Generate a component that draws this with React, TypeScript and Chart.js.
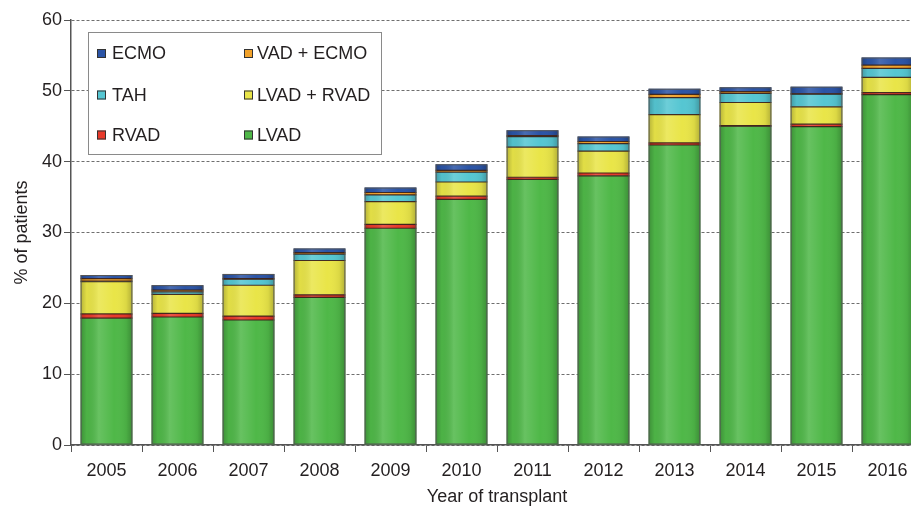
import React, { useEffect, useRef } from "react";
import { Chart, registerables } from "chart.js";

Chart.register(...registerables);

const years = ["2005", "2006", "2007", "2008", "2009", "2010", "2011", "2012", "2013", "2014", "2015", "2016"];
const lvad = [17.9, 18.07, 17.65, 20.85, 30.6, 34.68, 37.5, 38.0, 42.35, 45.0, 44.94, 49.46];
const rvad = [0.6, 0.5, 0.55, 0.35, 0.55, 0.45, 0.3, 0.4, 0.3, 0.1, 0.35, 0.28];
const lvadRvad = [4.55, 2.7, 4.35, 4.85, 3.2, 2.0, 4.24, 3.1, 4.0, 3.25, 2.45, 2.17];
const tah = [0.1, 0.35, 0.85, 0.9, 0.95, 1.4, 1.5, 1.05, 2.4, 1.3, 1.8, 1.27];
const vadEcmo = [0.35, 0.25, 0.1, 0.2, 0.35, 0.25, 0.15, 0.3, 0.45, 0.25, 0.05, 0.45];
const ecmo = [0.5, 0.7, 0.65, 0.6, 0.7, 0.85, 0.75, 0.7, 0.8, 0.6, 1.0, 1.08];
const yTicks = [0, 10, 20, 30, 40, 50, 60];
const legendOrder = [
  ["ECMO", "VAD + ECMO"],
  ["TAH", "LVAD + RVAD"],
  ["RVAD", "LVAD"],
];

const FONT = '"Liberation Sans", Arial, sans-serif';
const TEXT = "#231f20";

const shadePlugin = {
  id: "shade",
  afterDatasetsDraw(chart: any) {
    const ctx = chart.ctx;
    const metas = chart.getSortedVisibleDatasetMetas();
    const n = chart.data.labels.length;
    ctx.save();
    for (let i = 0; i < n; i++) {
      const first = metas[0].data[i];
      if (!first) continue;
      const p = first.getProps(["x", "width", "base"], true);
      let top = Infinity;
      const tops: number[] = [];
      metas.forEach((m: any) => {
        const el = m.data[i];
        if (el) {
          const y = el.getProps(["y"], true).y;
          tops.push(y);
          top = Math.min(top, y);
        }
      });
      const left = p.x - p.width / 2;
      const g = ctx.createLinearGradient(left, 0, left + p.width, 0);
      g.addColorStop(0, "rgba(0,0,0,0.22)");
      g.addColorStop(0.12, "rgba(0,0,0,0.03)");
      g.addColorStop(0.35, "rgba(255,255,255,0.14)");
      g.addColorStop(0.65, "rgba(255,255,255,0)");
      g.addColorStop(0.88, "rgba(0,0,0,0.06)");
      g.addColorStop(1, "rgba(0,0,0,0.24)");
      ctx.fillStyle = g;
      ctx.fillRect(left, top, p.width, p.base - top);
      // segment boundaries
      ctx.strokeStyle = "rgba(55,30,25,0.92)";
      ctx.lineWidth = 1.2;
      tops.slice(0, tops.length - 1).forEach((y) => {
        ctx.beginPath();
        ctx.moveTo(left, y);
        ctx.lineTo(left + p.width, y);
        ctx.stroke();
      });
      ctx.strokeStyle = "#555555";
      ctx.lineWidth = 1;
      ctx.strokeRect(left + 0.5, top + 0.5, p.width - 1, p.base - top - 1);
    }
    ctx.restore();
  },
};

const legendPlugin = {
  id: "boxLegend",
  afterDraw(chart: any) {
    const ctx = chart.ctx;
    const colorOf: Record<string, string> = {};
    chart.data.datasets.forEach((d: any) => {
      colorOf[d.label] = d.backgroundColor;
    });
    ctx.save();
    ctx.fillStyle = "#ffffff";
    ctx.fillRect(88.5, 32.5, 293, 122);
    ctx.strokeStyle = "#8a8a8a";
    ctx.lineWidth = 1;
    ctx.strokeRect(88.5, 32.5, 293, 122);
    const rowsY = [53.5, 95, 135];
    const colSq = [97, 244];
    const colTx = [112, 257];
    ctx.font = `18px ${FONT}`;
    ctx.textBaseline = "middle";
    ctx.textAlign = "left";
    legendOrder.forEach((row, r) => {
      row.forEach((label, c) => {
        const sx = colSq[c];
        const sy = rowsY[r] - 4.5;
        ctx.fillStyle = colorOf[label];
        ctx.fillRect(sx, sy, 9, 9);
        ctx.strokeStyle = "#333333";
        ctx.strokeRect(sx + 0.5, sy + 0.5, 8, 8);
        ctx.fillStyle = TEXT;
        ctx.fillText(label, colTx[c], rowsY[r] + 1);
      });
    });
    ctx.restore();
  },
};

export default function App() {
  const ref = useRef<HTMLCanvasElement | null>(null);

  useEffect(() => {
    if (!ref.current) return;
    const mk = (label: string, data: number[], color: string) => ({
      label,
      data,
      backgroundColor: color,
      borderWidth: 0,
      barPercentage: 0.73,
      categoryPercentage: 1,
    });
    const chart = new Chart(ref.current, {
      type: "bar",
      data: {
        labels: years,
        datasets: [
          mk("LVAD", lvad, "#4fb848"),
          mk("RVAD", rvad, "#e8392a"),
          mk("LVAD + RVAD", lvadRvad, "#e9e548"),
          mk("TAH", tah, "#55c6d2"),
          mk("VAD + ECMO", vadEcmo, "#f2a22a"),
          mk("ECMO", ecmo, "#2b54a6"),
        ],
      },
      options: {
        responsive: false,
        animation: false,
        devicePixelRatio: 1,
        layout: { padding: { left: 0, top: 20, right: 2, bottom: 0 } },
        plugins: {
          legend: { display: false },
          tooltip: { enabled: false },
        },
        scales: {
          x: {
            stacked: true,
            ticks: { color: TEXT, font: { size: 18, family: FONT }, padding: 8, maxRotation: 0 },
            grid: {
              drawOnChartArea: false,
              drawTicks: true,
              tickLength: 7,
              color: "#555555",
              tickBorderDash: [],
            },
            border: { display: true, color: "#555555", width: 1.5 },
            title: {
              display: true,
              text: "Year of transplant",
              color: TEXT,
              font: { size: 18, family: FONT },
              padding: { top: 0, bottom: 3 },
            },
            afterFit: (s: any) => {
              s.height = 66;
            },
          },
          y: {
            stacked: true,
            min: 0,
            max: 60,
            afterBuildTicks: (s: any) => {
              s.ticks = yTicks.map((v) => ({ value: v }));
            },
            ticks: { color: TEXT, font: { size: 18, family: FONT }, padding: 2 },
            grid: {
              color: "#6f6f6f",
              lineWidth: 1,
              tickLength: 7,
              tickColor: "#555555",
              tickBorderDash: [],
            },
            border: { display: true, color: "#555555", width: 1.5, dash: [3, 2] },
            title: {
              display: true,
              text: "% of patients",
              color: TEXT,
              font: { size: 18, family: FONT },
              padding: { top: 11, bottom: 0 },
            },
            afterFit: (s: any) => {
              s.width = 71;
            },
          },
        },
      },
      plugins: [shadePlugin, legendPlugin],
    });
    return () => chart.destroy();
  }, []);

  return (
    <div
      style={{
        position: "absolute",
        left: 0,
        top: 0,
        width: 911,
        height: 511,
        overflow: "hidden",
        background: "#ffffff",
      }}
    >
      <canvas ref={ref} width={925} height={511} style={{ display: "block" }} />
    </div>
  );
}
